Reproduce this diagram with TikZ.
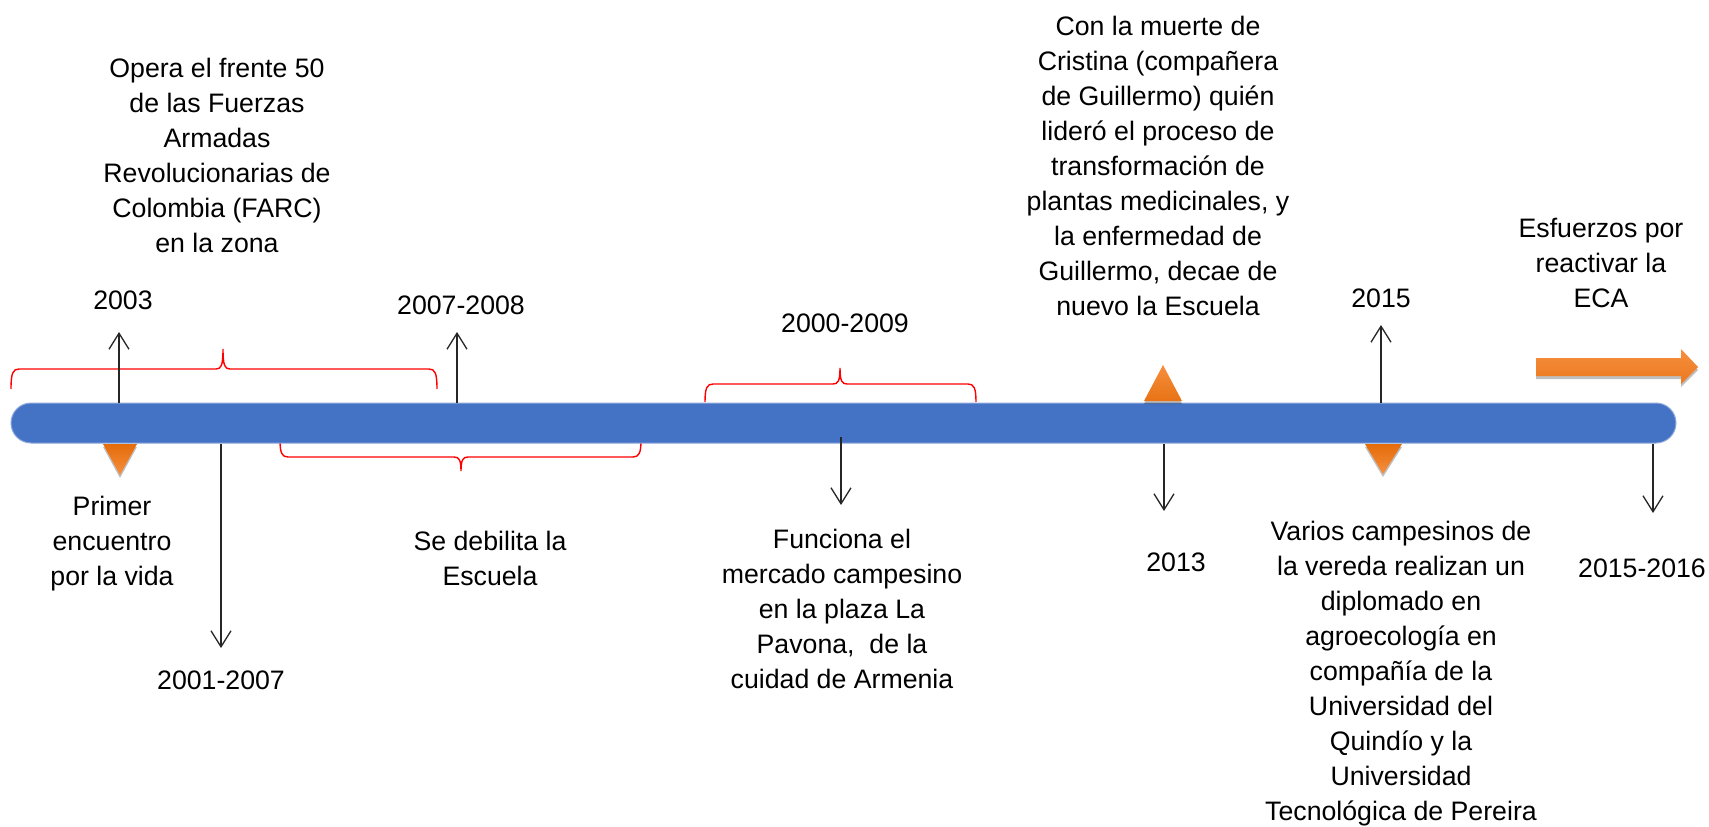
\documentclass[tikz,border=0pt]{standalone}
\usepackage{fontspec}
\setmainfont{Liberation Sans}
\usetikzlibrary{arrows.meta,shadows}
\definecolor{barblue}{HTML}{4472C4}
\definecolor{baredge}{HTML}{8FAADC}
\definecolor{orgdark}{HTML}{E46C0A}
\definecolor{orglight}{HTML}{F68E3E}
\definecolor{braceRed}{HTML}{FF0000}
\tikzset{
  lbl/.style={align=center, inner sep=0pt, font=\fontsize{26.7}{35}\selectfont},
  conn/.style={draw=black!85, line width=1.3pt, -{Straight Barb[length=16pt,width=20pt,line width=1.3pt]}},
  bracepath/.style={draw=braceRed, line width=1.4pt},
  tri/.style={drop shadow={shadow xshift=0pt, shadow yshift=-3pt, opacity=0.25, fill=black}},
}
\begin{document}
\begin{tikzpicture}[x=1pt,y=-1pt]
\useasboundingbox (0,0) rectangle (1709,827);
\fill[white] (0,0) rectangle (1709,827);

% braces
\draw[bracepath] (11,389) .. controls (11,373) and (13,369) .. (19,369) -- (216,369)
  .. controls (221,369) and (223,366) .. (223,349)
  .. controls (223,366) and (225,369) .. (230,369) -- (429,369)
  .. controls (435,369) and (437,373) .. (437,389);
\draw[bracepath] (280,440) .. controls (280,453) and (282,457) .. (288,457) -- (454,457)
  .. controls (459,457) and (461,460) .. (461,471)
  .. controls (461,460) and (463,457) .. (468,457) -- (633,457)
  .. controls (639,457) and (641,453) .. (641,440);
\draw[bracepath] (705,402) .. controls (705,388) and (707,384) .. (713,384) -- (833,384)
  .. controls (838,384) and (840,381) .. (840,368)
  .. controls (840,381) and (842,384) .. (847,384) -- (968,384)
  .. controls (974,384) and (976,388) .. (976,402);

% bar
\node[fill=barblue, draw=baredge, line width=1pt, rounded corners=20pt,
      minimum width=1665pt, minimum height=40pt, inner sep=0pt] (bar) at (843.5,423) {};

% triangles
\path[tri, top color=orgdark, bottom color=orglight] (103,444) -- (137,444) -- (120,475) -- cycle;
\path[tri, top color=orgdark, bottom color=orglight] (1365,444) -- (1402,444) -- (1383,474) -- cycle;
\path[tri, top color=orglight, bottom color=orgdark!80!orglight] (1144,401) -- (1182,401) -- (1163,365) -- cycle;
% big orange arrow
\path[tri, top color=orglight, bottom color=orgdark!60!orglight]
  (1536,358) -- (1681,358) -- (1681,349) -- (1698,367) -- (1681,384) -- (1681,376) -- (1536,376) -- cycle;

% arrow coordinates
\coordinate (s03) at (119,403);   \coordinate (e03) at (119,332);
\coordinate (s07) at (457,403);   \coordinate (e07) at (457,332);
\coordinate (s01) at (221,444);   \coordinate (e01) at (221,648);
\coordinate (s09) at (841,437);   \coordinate (e09) at (841,505);
\coordinate (s13) at (1164,444);  \coordinate (e13) at (1164,511);
\coordinate (s15) at (1381,403);  \coordinate (e15) at (1381,325);
\coordinate (s16) at (1653,444);  \coordinate (e16) at (1653,513);
\draw[conn] (s03) -- (e03);
\draw[conn] (s07) -- (e07);
\draw[conn] (s01) -- (e01);
\draw[conn] (s09) -- (e09);
\draw[conn] (s13) -- (e13);
\draw[conn] (s15) -- (e15);
\draw[conn] (s16) -- (e16);

% labels
\node[lbl] (farc) at (217,155) {Opera el frente 50\\de las Fuerzas\\Armadas\\Revolucionarias de\\Colombia (FARC)\\en la zona};
\node[lbl] (y2003) at (123,300) {2003};
\node[lbl] (y0708) at (461,305) {2007-2008};
\node[lbl] (y0009) at (845,323) {2000-2009};
\node[lbl] (cris) at (1158,166) {Con la muerte de\\Cristina (compañera\\de Guillermo) quién\\lideró el proceso de\\transformación de\\plantas medicinales, y\\la enfermedad de\\Guillermo, decae de\\nuevo la Escuela};
\node[lbl] (y2015) at (1381,298) {2015};
\node[lbl] (eca) at (1601,263) {Esfuerzos por\\reactivar la\\ECA};
\node[lbl] (primer) at (112,544) {Primer\\encuentro\\por la vida};
\node[lbl] (y0107) at (221,680) {2001-2007};
\node[lbl] (debil) at (490,558) {Se debilita la\\Escuela};
\node[lbl] (merc) at (842,609) {Funciona el\\mercado campesino\\en la plaza La\\Pavona,\ \ de la\\cuidad de Armenia};
\node[lbl] (y2013) at (1176,562) {2013};
\node[lbl] (varios) at (1401,674) {Varios campesinos de\\la vereda realizan un\\diplomado en\\agroecología en\\compañía de la\\Universidad del\\Quindío y la\\Universidad\\Tecnológica de Pereira};
\node[lbl] (y1516) at (1642,568) {2015-2016};
\end{tikzpicture}
\end{document}
